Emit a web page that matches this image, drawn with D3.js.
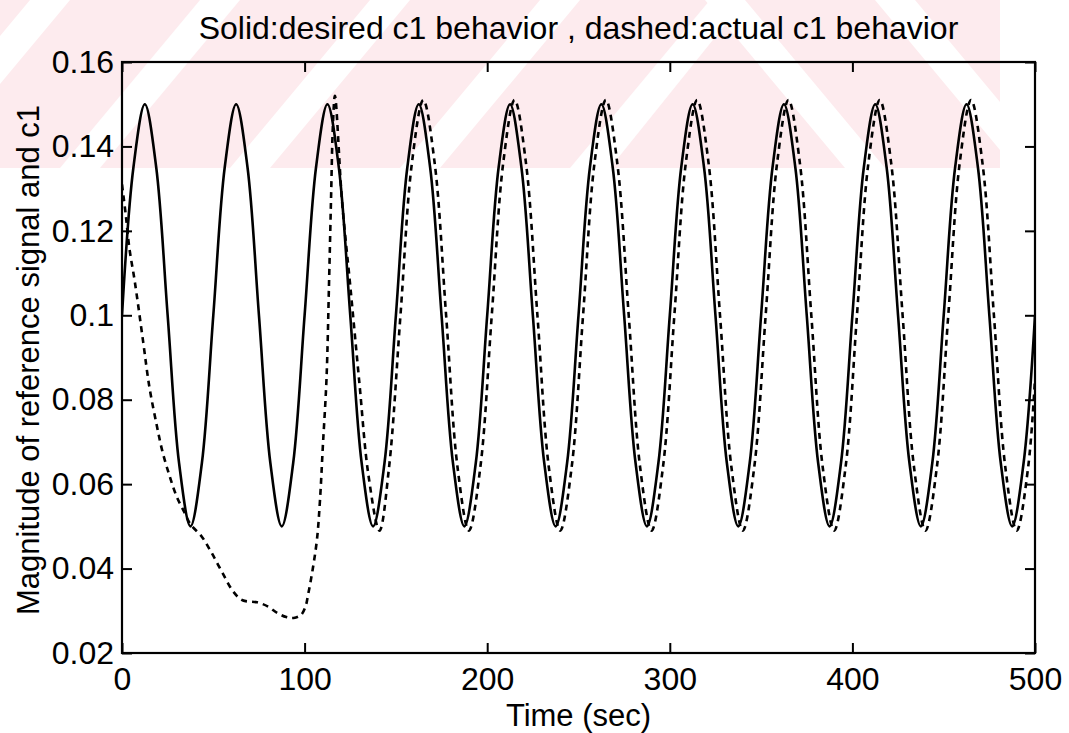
<!DOCTYPE html>
<html><head><meta charset="utf-8">
<script src="https://cdn.jsdelivr.net/npm/d3@7"></script>
<style>
body{margin:0;background:#fff}
svg{display:block}
text{font-family:"Liberation Sans",Arial,Helvetica,sans-serif;fill:#000}
</style>
</head><body>
<svg id="chart" width="1069" height="733"></svg>
<script>
// ---------- data ----------
const titleText = "Solid:desired c1 behavior , dashed:actual c1 behavior";
const xLabelText = "Time (sec)";
const yLabelText = "Magnitude of reference signal and c1";
const xTickValues = [0, 100, 200, 300, 400, 500];
const xTickLabels = ["0", "100", "200", "300", "400", "500"];
const yTickValues = [0.02, 0.04, 0.06, 0.08, 0.10, 0.12, 0.14, 0.16];
const yTickLabels = ["0.02", "0.04", "0.06", "0.08", "0.1", "0.12", "0.14", "0.16"];

// desired (solid)
const solidTime = [0,6.25,12.5,18.75,25,31.25,37.5,43.75,50,56.25,62.5,68.75,75,81.25,87.5,93.75,
  100,106.25,112.5,118.75,125,131.25,137.5,143.75,150,156.25,162.5,168.75,175,181.25,187.5,193.75,
  200,206.25,212.5,218.75,225,231.25,237.5,243.75,250,256.25,262.5,268.75,275,281.25,287.5,293.75,
  300,306.25,312.5,318.75,325,331.25,337.5,343.75,350,356.25,362.5,368.75,375,381.25,387.5,393.75,
  400,406.25,412.5,418.75,425,431.25,437.5,443.75,450,456.25,462.5,468.75,475,481.25,487.5,493.75,500];
const solidValue = [0.1,0.135,0.15,0.135,0.1,0.065,0.05,0.065,
  0.1,0.135,0.15,0.135,0.1,0.065,0.05,0.065,
  0.1,0.135,0.15,0.135,0.1,0.065,0.05,0.065,
  0.1,0.135,0.15,0.135,0.1,0.065,0.05,0.065,
  0.1,0.135,0.15,0.135,0.1,0.065,0.05,0.065,
  0.1,0.135,0.15,0.135,0.1,0.065,0.05,0.065,
  0.1,0.135,0.15,0.135,0.1,0.065,0.05,0.065,
  0.1,0.135,0.15,0.135,0.1,0.065,0.05,0.065,
  0.1,0.135,0.15,0.135,0.1,0.065,0.05,0.065,
  0.1,0.135,0.15,0.135,0.1,0.065,0.05,0.065,
  0.1];

// actual (dashed)
const dashedTime = [0,2,4,7,11.5,15,19,22,26,30,34,37.5,43.8,49,55,61,66,74,80,85,90,94,98,100.5,102,
  104.5,106.8,108.4,110,112,113.4,114.5,115.5,116.6,120.5,125,130,135,141,
  146.25,152.5,158.75,165,171.25,177.5,183.75,190,196.25,202.5,208.75,215,221.25,227.5,233.75,240,
  246.25,252.5,258.75,265,271.25,277.5,283.75,290,296.25,302.5,308.75,315,321.25,327.5,333.75,340,
  346.25,352.5,358.75,365,371.25,377.5,383.75,390,396.25,402.5,408.75,415,421.25,427.5,433.75,440,
  446.25,452.5,458.75,465,471.25,477.5,483.75,490,496.25,500];
const dashedValue = [0.131,0.124,0.116,0.108,0.094,0.083,0.074,0.068,0.062,0.057,0.0535,0.0505,0.0475,0.0438,0.039,0.0345,0.0325,0.032,0.031,0.0295,0.0285,0.0283,0.029,0.031,0.034,
  0.040,0.047,0.056,0.069,0.085,0.108,0.128,0.145,0.152,0.127,0.107,0.084,0.062,0.049,
  0.064,0.1,0.136,0.151,0.136,0.1,0.064,0.049,
  0.064,0.1,0.136,0.151,0.136,0.1,0.064,0.049,
  0.064,0.1,0.136,0.151,0.136,0.1,0.064,0.049,
  0.064,0.1,0.136,0.151,0.136,0.1,0.064,0.049,
  0.064,0.1,0.136,0.151,0.136,0.1,0.064,0.049,
  0.064,0.1,0.136,0.151,0.136,0.1,0.064,0.049,
  0.064,0.1,0.136,0.151,0.136,0.1,0.064,0.049,
  0.064,0.085];

// ---------- layout ----------
const plot = {left: 122, right: 1035, top: 62, bottom: 653};
const svg = d3.select("#chart");

// faint watermark band (background decoration)
const defs = svg.append("defs");
defs.append("clipPath").attr("id","bandclip")
  .append("rect").attr("x",0).attr("y",0).attr("width",1000).attr("height",168);
const bg = svg.append("g").attr("clip-path","url(#bandclip)");
bg.append("rect").attr("x",0).attr("y",0).attr("width",1000).attr("height",168).attr("fill","#fdebee");
const apex = 745, sw = 40, sdx = 140;
[-110, 60, 230, 400, 570].forEach(x0 => {
  bg.append("polygon").attr("fill","#fff")
    .attr("points", [[x0,168],[x0+sw,168],[Math.min(x0+sw+sdx,apex),0],[Math.min(x0+sdx,apex),0]].map(p=>p.join(",")).join(" "));
});
[apex-sw, apex+130, apex+300].forEach(x0 => {
  bg.append("polygon").attr("fill","#fff")
    .attr("points", [[x0+sdx,168],[x0+sdx+sw,168],[x0+sw,0],[x0,0]].map(p=>p.join(",")).join(" "));
});

const x = d3.scaleLinear().domain([0, 500]).range([plot.left, plot.right]);
const y = d3.scaleLinear().domain([0.02, 0.16]).range([plot.bottom, plot.top]);

defs.append("clipPath").attr("id","plotclip")
  .append("rect").attr("x",plot.left).attr("y",plot.top)
  .attr("width",plot.right-plot.left).attr("height",plot.bottom-plot.top);

// lines
const solidPts = solidTime.map((t,i)=>[t, solidValue[i]]);
const dashedPts = dashedTime.map((t,i)=>[t, dashedValue[i]]);
const lineGen = d3.line().x(d=>x(d[0])).y(d=>y(d[1])).curve(d3.curveCatmullRom.alpha(0.5));
const lines = svg.append("g").attr("clip-path","url(#plotclip)");
lines.append("path").attr("d", lineGen(solidPts)).attr("fill","none")
  .attr("stroke","#000").attr("stroke-width",2.6).attr("stroke-linejoin","round");
lines.append("path").attr("d", lineGen(dashedPts)).attr("fill","none")
  .attr("stroke","#000").attr("stroke-width",2.6).attr("stroke-dasharray","6,5");

// axes (ticks inward, on all four sides)
const tickLen = 10;
const fmtX = (d,i)=>xTickLabels[i];
const fmtY = (d,i)=>yTickLabels[i];
const axB = svg.append("g").attr("transform",`translate(0,${plot.bottom})`)
  .call(d3.axisBottom(x).tickValues(xTickValues).tickFormat(fmtX).tickSizeInner(-tickLen).tickSizeOuter(0).tickPadding(14));
const axT = svg.append("g").attr("transform",`translate(0,${plot.top})`)
  .call(d3.axisTop(x).tickValues(xTickValues).tickFormat("").tickSizeInner(-tickLen).tickSizeOuter(0));
const axL = svg.append("g").attr("transform",`translate(${plot.left},0)`)
  .call(d3.axisLeft(y).tickValues(yTickValues).tickFormat(fmtY).tickSizeInner(-tickLen).tickSizeOuter(0).tickPadding(8));
const axR = svg.append("g").attr("transform",`translate(${plot.right},0)`)
  .call(d3.axisRight(y).tickValues(yTickValues).tickFormat("").tickSizeInner(-tickLen).tickSizeOuter(0));
[axB,axT,axL,axR].forEach(a=>{
  a.selectAll(".domain").remove();
  a.selectAll(".tick line").attr("stroke","#000").attr("stroke-width",2);
});
axB.selectAll(".tick text").attr("font-size",32).attr("font-family","Liberation Sans, Arial, sans-serif").attr("fill","#000");
axL.selectAll(".tick text").attr("font-size",32).attr("font-family","Liberation Sans, Arial, sans-serif").attr("fill","#000");

// frame
svg.append("rect").attr("x",plot.left).attr("y",plot.top)
  .attr("width",plot.right-plot.left).attr("height",plot.bottom-plot.top)
  .attr("fill","none").attr("stroke","#000").attr("stroke-width",2.2);

// texts
svg.append("text").attr("x",(plot.left+plot.right)/2).attr("y",39)
  .attr("text-anchor","middle").attr("font-size",32).text(titleText);
svg.append("text").attr("x",(plot.left+plot.right)/2).attr("y",726)
  .attr("text-anchor","middle").attr("font-size",31).text(xLabelText);
svg.append("text").attr("transform","translate(39,360) rotate(-90)")
  .attr("text-anchor","middle").attr("font-size",31).text(yLabelText);
</script>
</body></html>
